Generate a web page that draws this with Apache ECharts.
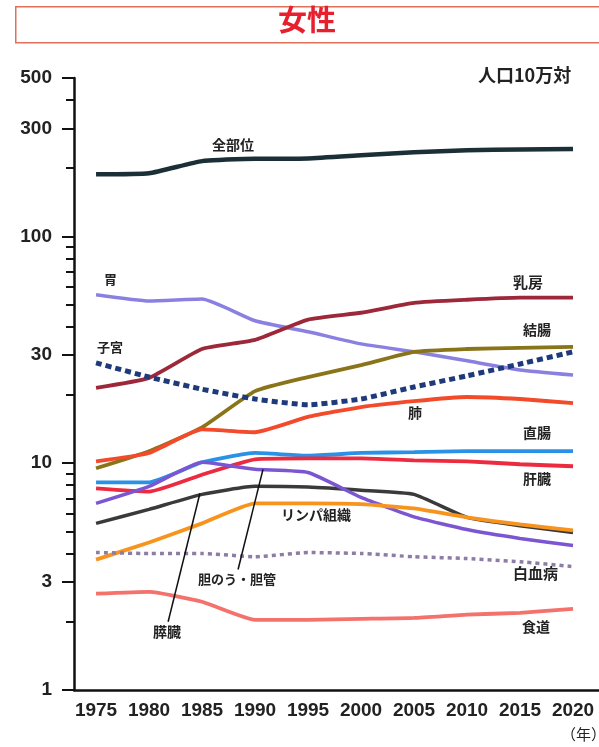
<!DOCTYPE html>
<html><head><meta charset="utf-8">
<script src="https://cdn.jsdelivr.net/npm/echarts@6/dist/echarts.min.js"></script>
<style>html,body{margin:0;padding:0;background:#fff}#c{width:599px;height:747px}</style>
</head><body><div id="c"></div>
<script>
const years = [1975,1980,1985,1990,1995,2000,2005,2010,2015,2020];
const allSites   = [188,190,215,220,221,228,235,240,242,243];
const stomach    = [55.4,52,53,42.5,38,33.6,31,28.3,25.8,24.5];
const breast     = [21.5,23.8,31.9,35,43,46.1,51,52.6,53.7,53.7];
const colon      = [9.5,11.3,14.4,20.8,24,27.1,31,31.9,32.3,32.6];
const uterus     = [27.7,24,21.2,19.2,18.1,19.2,21.7,24.3,27.4,31];
const lung       = [10.2,11.1,14.1,13.7,16,17.7,18.8,19.6,19.2,18.4];
const rectum     = [8.24,8.24,10.1,11.1,10.8,11.1,11.2,11.3,11.3,11.3];
const liver      = [7.75,7.5,8.9,10.4,10.5,10.5,10.3,10.2,9.9,9.7];
const pancreas   = [6.65,7.9,10.1,9.4,9.1,7.07,5.8,5.1,4.66,4.34];
const gallbladder= [5.43,6.26,7.29,7.91,7.85,7.6,7.29,5.77,5.3,4.95];
const lymph      = [3.76,4.47,5.43,6.65,6.65,6.6,6.32,5.77,5.37,5.06];
const leukemia   = [4.04,4.0,4.0,3.87,4.04,4.0,3.87,3.8,3.68,3.5];
const esophagus  = [2.66,2.71,2.45,2.04,2.04,2.06,2.08,2.15,2.19,2.28];
const yLabelTicks = [1,3,10,30,100,300,500];
const yMinorTicks = [2,4,5,6,7,8,9,20,40,50,60,70,80,90,200,400];

const chart = echarts.init(document.getElementById('c'));
const pair = arr => years.map((y,i)=>[y,arr[i]]);
function line(name, arr, color, width, dash) {
  return {
    name, type:'line', data: pair(arr), symbol:'none', smooth:0.15,
    lineStyle:{color, width, type: dash || 'solid', cap:'butt'},
    silent:true
  };
}
const cjk = '"Noto Sans CJK JP", sans-serif';
const num = '"Liberation Sans", Arial, sans-serif';
function lbl(text, x, y, size) {
  return {type:'text', left:x, top:y - (size||14)*0.7, z:50,
    style:{text, font:'bold '+(size||14)+'px '+cjk, fill:'#222'}};
}
const series = [
  line('全部位', allSites, '#1b2f36', 4.5),
  line('胃', stomach, '#8a80e2', 3.5),
  line('乳房', breast, '#9c2839', 3.8),
  line('結腸', colon, '#8a7419', 3.8),
  line('子宮', uterus, '#1f3a7a', 5, [6,4]),
  line('肺', lung, '#f24a2a', 3.8),
  line('直腸', rectum, '#2a92e6', 3.8),
  line('肝臓', liver, '#ec2a40', 3.8),
  line('胆のう・胆管', gallbladder, '#3a3a3a', 3.5),
  line('膵臓', pancreas, '#7b55d2', 3.5),
  line('リンパ組織', lymph, '#f7941e', 3.8),
  line('白血病', leukemia, '#8d7ca6', 3.5, [4,4]),
  line('食道', esophagus, '#f4716c', 3.8)
];
series[0].markLine = {
  silent:true, symbol:'none', animation:false,
  lineStyle:{color:'#111', width:1.5, type:'solid'},
  label:{show:false},
  data:[
    [{coord:[1981.8,2.0]},{coord:[1984.8,7.37]}],
    [{coord:[1988.4,3.4]},{coord:[1990.75,9.4]}]
  ]
};
chart.setOption({
  animation:false,
  backgroundColor:'#fff',
  grid:{left:74, right:0, top:78, bottom:57, containLabel:false},
  xAxis:{type:'value', min:1972.92, max:2022.45,
    axisLine:{lineStyle:{color:'#111', width:2.5}},
    axisTick:{show:false}, splitLine:{show:false},
    axisLabel:{customValues:years, margin:11, fontSize:19, fontWeight:'bold', color:'#222',
      fontFamily:num, formatter: v=>String(v)}
  },
  yAxis:[
    {type:'log', logBase:10, min:1, max:500, position:'left',
      axisLine:{show:true, lineStyle:{color:'#111', width:2.5}},
      axisTick:{show:true, customValues:yLabelTicks, length:12, lineStyle:{color:'#111', width:2}},
      axisLabel:{customValues:yLabelTicks, margin:22, fontSize:19, fontWeight:'bold', color:'#222',
        fontFamily:num, formatter: v=>String(Math.round(v))},
      splitLine:{show:false}
    },
    {type:'log', logBase:10, min:1, max:500, position:'left', offset:0,
      axisLine:{show:false},
      axisTick:{show:true, customValues:yMinorTicks, length:8, lineStyle:{color:'#111', width:2}},
      axisLabel:{show:false}, splitLine:{show:false}
    }
  ],
  series,
  graphic:[
    {type:'rect', left:15, top:6, z:1, shape:{width:620, height:36},
      style:{fill:'#fff', stroke:'#e0705a', lineWidth:1.5}},
    {type:'text', left:278, top:5, z:2, style:{text:'女性', font:'bold 29px '+cjk, fill:'#e8202e'}},
    lbl('人口10万対', 478, 79, 18),
    lbl('全部位', 212, 147, 14),
    lbl('胃', 104, 282, 13),
    lbl('乳房', 513, 285, 15),
    lbl('結腸', 523, 332, 14),
    lbl('子宮', 97, 350, 13),
    lbl('肺', 408, 415, 14),
    lbl('直腸', 523, 435, 14),
    lbl('肝臓', 523, 481, 14),
    lbl('リンパ組織', 281, 517, 14),
    lbl('白血病', 513, 576, 15),
    lbl('胆のう・胆管', 198, 582, 13),
    lbl('膵臓', 153, 634, 14),
    lbl('食道', 522, 629, 14),
    {type:'text', left:561, top:727, z:50, style:{text:'（年）', font:'15px '+cjk, fill:'#222'}}
  ]
});
</script></body></html>
